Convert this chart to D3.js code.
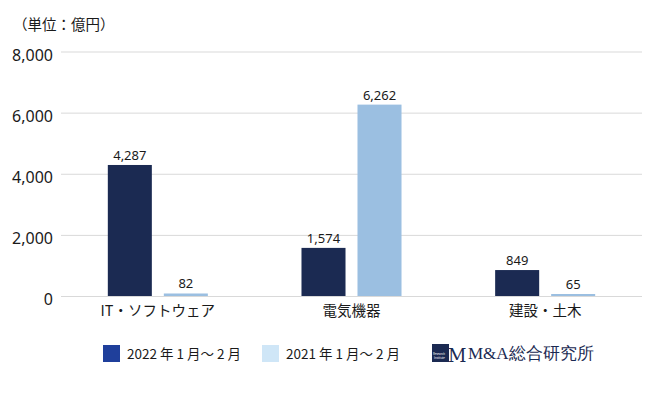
<!DOCTYPE html>
<html>
<head>
<meta charset="utf-8">
<script src="https://cdn.jsdelivr.net/npm/d3@7"></script>
<style>
  body { margin: 0; background: #fff; }
  svg text { font-family: "Noto Sans CJK JP", "Noto Sans", sans-serif; fill: #1a1a1a; }
</style>
</head>
<body>
<svg id="chart"></svg>
<script>
// chart data
var categories = ["IT・ソフトウェア", "電気機器", "建設・土木"];
var series = ["2022年1月～2月", "2021年1月～2月"];
var legendLabels = ["2022 年 1 月～ 2 月", "2021 年 1 月～ 2 月"];
var values2022 = [4287, 1574, 849];
var values2021 = [82, 6262, 65];
var yTicks = [0, 2000, 4000, 6000, 8000];

var width = 650, height = 393;
var barColors = ["#1b2a52", "#9bbfe1"];
var legendColors = ["#1f3f9b", "#cfe6f7"];

var svg = d3.select("#chart")
	.attr("width", width)
	.attr("height", height);

// scales
var x0 = d3.scaleBand().domain(categories).range([61, 642]);
var x1 = d3.scaleBand().domain(series)
	.range([0, x0.bandwidth()])
	.paddingInner(0.214)
	.paddingOuter(0.836);
var y = d3.scaleLinear().domain([0, 8000]).range([296, 51.5]);

// unit label
svg.append("text")
	.attr("x", 13)
	.attr("y", 30)
	.style("font-size", "14.5px")
	.text("（単位：億円）");

// gridlines + y labels
var yAxis = d3.axisLeft(y)
	.tickValues(yTicks)
	.tickSize(-(642 - 61))
	.tickPadding(8)
	.tickFormat(d3.format(","));

var gy = svg.append("g")
	.attr("transform", "translate(61,0)")
	.call(yAxis);
gy.select(".domain").remove();
gy.selectAll(".tick line").attr("stroke", "#d9d9d9").attr("stroke-width", 1);
gy.selectAll(".tick text")
	.attr("x", -8)
	.attr("dy", "0.55em")
	.style("font-family", "'Noto Sans', sans-serif")
	.style("font-size", "16px")
	.style("fill", "#1a1a1a");

// bars
var rows = categories.map(function(c, i) {
	return { cat: c, vals: [values2022[i], values2021[i]] };
});

var groups = svg.selectAll(".cat")
	.data(rows)
	.enter().append("g")
	.attr("class", "cat")
	.attr("transform", function(d) { return "translate(" + x0(d.cat) + ",0)"; });

groups.selectAll("rect")
	.data(function(d) { return d.vals.map(function(v, j) { return { s: series[j], v: v, j: j }; }); })
	.enter().append("rect")
	.attr("x", function(d) { return x1(d.s); })
	.attr("y", function(d) { return y(d.v); })
	.attr("width", x1.bandwidth())
	.attr("height", function(d) { return y(0) - y(d.v); })
	.attr("fill", function(d) { return barColors[d.j]; });

groups.selectAll(".val")
	.data(function(d) { return d.vals.map(function(v, j) { return { s: series[j], v: v }; }); })
	.enter().append("text")
	.attr("class", "val")
	.attr("x", function(d) { return x1(d.s) + x1.bandwidth() / 2; })
	.attr("y", function(d) { return y(d.v) - 5; })
	.attr("text-anchor", "middle")
	.style("font-family", "'Noto Sans', sans-serif")
	.style("font-size", "13px")
	.text(function(d) { return d3.format(",")(d.v); });

// category labels
svg.selectAll(".catlabel")
	.data(categories)
	.enter().append("text")
	.attr("class", "catlabel")
	.attr("x", function(d) { return x0(d) + x0.bandwidth() / 2; })
	.attr("y", 316)
	.attr("text-anchor", "middle")
	.style("font-size", "14.5px")
	.text(function(d) { return d; });

// legend
var legendX = [103, 262];
var legend = svg.selectAll(".legend")
	.data(legendLabels)
	.enter().append("g")
	.attr("class", "legend")
	.attr("transform", function(d, i) { return "translate(" + legendX[i] + ",345)"; });
legend.append("rect")
	.attr("width", 17)
	.attr("height", 17)
	.attr("fill", function(d, i) { return legendColors[i]; });
legend.append("text")
	.attr("x", 24)
	.attr("y", 14)
	.style("font-size", "13.5px")
	.text(function(d) { return d; });

// logo
var logo = svg.append("g").attr("transform", "translate(432,344)");
logo.append("rect")
	.attr("width", 17)
	.attr("height", 18)
	.attr("fill", "#1b2a52");
logo.append("text")
	.attr("x", 1).attr("y", 11)
	.style("font-size", "2.8px")
	.style("fill", "#fff")
	.text("Research");
logo.append("text")
	.attr("x", 2).attr("y", 15)
	.style("font-size", "2.8px")
	.style("fill", "#fff")
	.text("Institute");
logo.append("text")
	.attr("x", 16).attr("y", 18)
	.style("font-family", "'DejaVu Serif', serif")
	.style("font-size", "18px")
	.style("fill", "#1b2a52")
	.text("M");
logo.append("text")
	.attr("x", 36).attr("y", 15)
	.style("font-family", "'Liberation Serif', serif")
	.style("font-size", "17px")
	.style("fill", "#1b2a52")
	.text("M&A総合研究所");
</script>
</body>
</html>
